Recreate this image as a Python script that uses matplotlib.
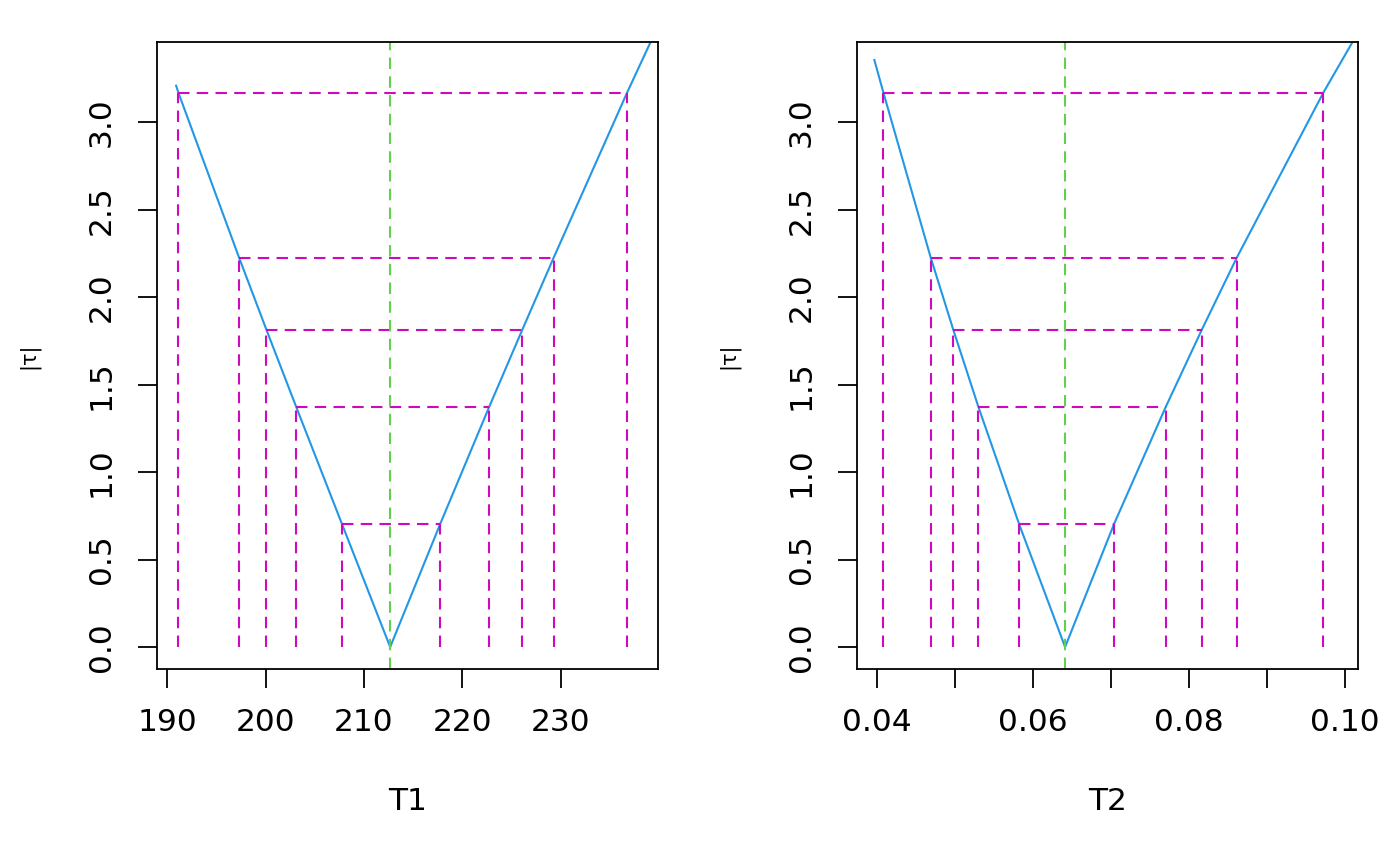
import matplotlib
matplotlib.use("Agg")
import matplotlib.pyplot as plt

# confidence levels (|tau| values) shared by both panels
tau_levels = [0.704, 1.373, 1.813, 2.225, 3.169]

# T1 profile
t1_est = 212.66
t1_lower = [207.75, 203.10, 200.08, 197.30, 191.12]
t1_upper = [217.75, 222.73, 226.09, 229.28, 236.75]
t1_curve_x = [190.89, 191.12, 197.30, 200.08, 203.10, 207.75, 212.66,
              217.75, 222.73, 226.09, 229.28, 236.75, 239.13]
t1_curve_tau = [3.209, 3.169, 2.225, 1.813, 1.373, 0.704, 0.0,
                0.704, 1.373, 1.813, 2.225, 3.169, 3.457]
t1_ticks = [190, 200, 210, 220, 230]
t1_ticklabels = ["190", "200", "210", "220", "230"]

# T2 profile
t2_est = 0.06413
t2_lower = [0.05823, 0.05302, 0.04981, 0.04692, 0.04085]
t2_upper = [0.07041, 0.07703, 0.08164, 0.08612, 0.09722]
t2_curve_x = [0.03969, 0.04085, 0.04692, 0.04981, 0.05302, 0.05823, 0.06413,
              0.07041, 0.07703, 0.08164, 0.08612, 0.09722, 0.10094]
t2_curve_tau = [3.356, 3.169, 2.225, 1.813, 1.373, 0.704, 0.0,
                0.704, 1.373, 1.813, 2.225, 3.169, 3.457]
t2_ticks = [0.04, 0.05, 0.06, 0.07, 0.08, 0.09, 0.10]
t2_ticklabels = ["0.04", "", "0.06", "", "0.08", "", "0.10"]

y_ticks = [0.0, 0.5, 1.0, 1.5, 2.0, 2.5, 3.0]
y_ticklabels = ["0.0", "0.5", "1.0", "1.5", "2.0", "2.5", "3.0"]

BLUE = "#2297E6"
GREEN = "#61D04F"
MAGENTA = "#CD0BBC"
FS = 22.5

plt.rcParams['font.family'] = ['DejaVu Sans']


def draw_panel(ax, curve_x, curve_tau, est, lower, upper, xlim, ticks, ticklabels, xlabel):
    ax.plot(curve_x, curve_tau, color=BLUE, lw=1.5, clip_on=True)
    for lev, lo, hi in zip(tau_levels, lower, upper):
        ax.plot([lo, hi], [lev, lev], color=MAGENTA, lw=1.5, dashes=(5.5, 3.5))
        ax.plot([lo, lo], [0, lev], color=MAGENTA, lw=1.5, dashes=(5.5, 3.5))
        ax.plot([hi, hi], [0, lev], color=MAGENTA, lw=1.5, dashes=(5.5, 3.5))
    ax.axvline(est, color=GREEN, lw=1.5, dashes=(5.5, 3.5))

    ax.set_xlim(*xlim)
    ax.set_ylim(-0.1275, 3.457)
    ax.set_xticks(ticks)
    ax.set_xticklabels(ticklabels, fontsize=FS)
    ax.set_yticks(y_ticks)
    ax.set_yticklabels(y_ticklabels, fontsize=FS, rotation=90, va="center")
    ax.tick_params(direction="out", length=14, width=1.3, pad=14)
    ax.tick_params(axis="y", pad=16)
    for sp in ax.spines.values():
        sp.set_linewidth(1.3)
    ax.set_xlabel(xlabel, fontsize=FS, labelpad=36)
    ax.set_ylabel("|\u03c4|", fontsize=15, labelpad=34)


fig = plt.figure(figsize=(14, 8.66), dpi=100)
ax1 = fig.add_axes([0.1124, 0.2271, 0.3574, 0.724])
ax2 = fig.add_axes([0.6124, 0.2271, 0.3574, 0.724])

draw_panel(ax1, t1_curve_x, t1_curve_tau, t1_est, t1_lower, t1_upper,
           (188.98, 239.87), t1_ticks, t1_ticklabels, "T1")
draw_panel(ax2, t2_curve_x, t2_curve_tau, t2_est, t2_lower, t2_upper,
           (0.03751, 0.10163), t2_ticks, t2_ticklabels, "T2")

fig.savefig("out.png", dpi=100)
